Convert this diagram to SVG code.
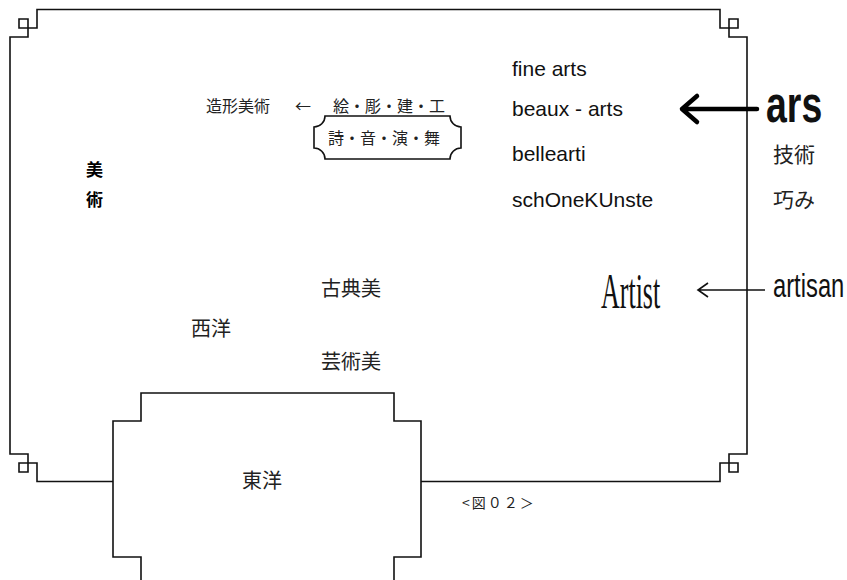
<svg xmlns="http://www.w3.org/2000/svg" width="847" height="580" viewBox="0 0 847 580">
<style>
.ln{fill:none;stroke:#111;stroke-width:1.6;stroke-linejoin:miter}
.jp{font-family:"Noto Sans CJK JP","Noto Sans",sans-serif;fill:#222}
.lat{font-family:"Liberation Sans",Arial,sans-serif;font-size:21px;fill:#111}
</style>
<rect width="847" height="580" fill="#fff"/>
<g id="frame">
<path class="ln" d="M10 37 H28 V19 H19 V28 H37 V9.5 H720 V28 H738 V19 H729 V37 H747 V454 H729 V472 H738 V463 H720 V481.5 H37 V463 H19 V472 H28 V454 H10 Z"/>
</g>
<g id="east">
<path class="ln" style="fill:#fff" d="M141 592 V557 H113 V421 H141 V393 H394 V421 H421 V557 H394 V592"/>
<text class="jp" x="242" y="488" font-size="20">東洋</text>
</g>
<g id="bijutsu">
<text class="jp" x="86" y="176" font-size="17" font-weight="bold" style="fill:#000">美</text>
<text class="jp" x="86" y="206" font-size="17" font-weight="bold" style="fill:#000">術</text>
</g>
<g id="zokei">
<text class="jp" x="206" y="112" font-size="16">造形美術</text>
<text class="jp" x="295" y="112" font-size="16">←</text>
<text class="jp" x="333" y="112" font-size="16">絵・彫・建・工</text>
</g>
<g id="plaque">
<path class="ln" d="M325 116 H450 A11 11 0 0 0 461 127 V148 A11 11 0 0 0 450 159 H325 A11 11 0 0 0 314 148 V127 A11 11 0 0 0 325 116 Z"/>
<text class="jp" x="328" y="144" font-size="16">詩・音・演・舞</text>
</g>
<g id="western-terms">
<text class="lat" x="512" y="76">fine arts</text>
<text class="lat" x="512" y="116">beaux - arts</text>
<text class="lat" x="512" y="161">bellearti</text>
<text class="lat" x="512" y="207">schOneKUnste</text>
</g>
<g id="ars">
<text transform="translate(766,122) scale(0.72,1)" font-family="'Liberation Sans',Arial,sans-serif" font-weight="bold" font-size="52" fill="#111">ars</text>
<text class="jp" x="773" y="162" font-size="21">技術</text>
<text class="jp" x="773" y="207" font-size="21">巧み</text>
</g>
<g id="artist">
<text transform="translate(601,308) scale(0.52,1)" font-family="'Liberation Serif','Times New Roman',serif" font-size="50" fill="#111">Artist</text>
</g>
<g id="artisan">
<text transform="translate(773,297) scale(0.72,1)" font-family="'Liberation Sans',Arial,sans-serif" font-size="33" fill="#111">artisan</text>
</g>
<g id="west">
<text class="jp" x="321" y="296" font-size="20">古典美</text>
<text class="jp" x="191" y="336" font-size="20">西洋</text>
<text class="jp" x="321" y="369" font-size="20">芸術美</text>
</g>
<g id="caption">
<text class="jp" x="462" y="508" font-size="14" letter-spacing="2">&lt;図０２＞</text>
</g>
<g id="connectors">
<path d="M757 109 H682 M697 96 L682 109 L697 122" fill="none" stroke="#000" stroke-width="4.5" stroke-linecap="round" stroke-linejoin="round"/>
<path d="M765 290 H698 M708 283 L698 290 L708 297" fill="none" stroke="#111" stroke-width="1.6"/>
</g>
</svg>
